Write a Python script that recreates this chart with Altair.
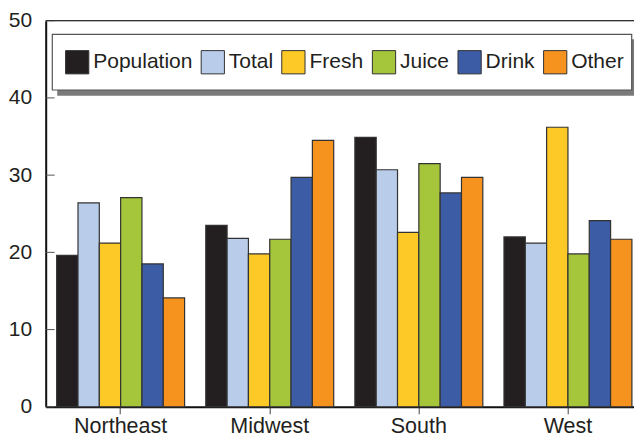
import altair as alt
import pandas as pd

regions = ["Northeast", "Midwest", "South", "West"]
series = ["Population", "Total", "Fresh", "Juice", "Drink", "Other"]
colors = ["#231f20", "#b9cdea", "#fcc926", "#a5c63b", "#3c5ca5", "#f6921e"]

population = [19.6, 23.5, 34.9, 22.0]
total = [26.4, 21.8, 30.7, 21.2]
fresh = [21.2, 19.8, 22.6, 36.2]
juice = [27.1, 21.7, 31.5, 19.8]
drink = [18.5, 29.7, 27.7, 24.1]
other = [14.1, 34.5, 29.7, 21.7]

y_ticks = [0, 10, 20, 30, 40, 50]

values = [population, total, fresh, juice, drink, other]
rows = []
for s, vals in zip(series, values):
    for r, v in zip(regions, vals):
        rows.append({"region": r, "series": s, "value": v})
df = pd.DataFrame(rows)

FONT = "Liberation Sans"
W, H = 588.3, 386.1
PAD_L, PAD_T = 37.7, 12.7
SVG_W, SVG_H = 626, 430

bars = alt.Chart(df).mark_bar(stroke="#333333", strokeWidth=1.2).encode(
    x=alt.X(
        "region:N",
        sort=regions,
        scale=alt.Scale(paddingInner=0.142, paddingOuter=0.0438, align=0.84),
        axis=alt.Axis(
            title=None, labelAngle=0, labelFont=FONT, labelFontSize=21.5,
            labelColor="#231f20", labelPadding=2, domainColor="#111111",
            domainWidth=2, ticks=True, tickSize=7, tickColor="#444444",
            tickWidth=1, grid=False,
        ),
    ),
    xOffset=alt.XOffset("series:N", sort=series,
                        scale=alt.Scale(paddingInner=0, paddingOuter=0)),
    y=alt.Y(
        "value:Q",
        scale=alt.Scale(domain=[0, 50], nice=False),
        axis=alt.Axis(
            title=None, values=y_ticks, labelFont=FONT, labelFontSize=21,
            labelColor="#231f20", labelPadding=14, ticks=False,
            domainColor="#111111", domainWidth=2, grid=False,
        ),
    ),
    color=alt.Color(
        "series:N",
        sort=series,
        scale=alt.Scale(domain=series, range=colors),
        legend=alt.Legend(
            title=None, orient="none", legendX=19, legendY=28.6,
            direction="horizontal", columns=6, symbolType="square",
            symbolSize=540, symbolStrokeColor="#333333", symbolStrokeWidth=1,
            symbolOpacity=1, labelFont=FONT, labelFontSize=21,
            labelColor="#231f20", columnPadding=5.6, padding=0, labelOffset=3.5,
        ),
    ),
)

one = pd.DataFrame({"k": [0]})

shadow = alt.Chart(one).mark_rect(color="#7a7a7a").encode(
    x=alt.value(11.5), x2=alt.value(W), y=alt.value(18.6), y2=alt.value(75.1)
)
box = alt.Chart(one).mark_rect(fill="white", stroke="#555555", strokeWidth=1.2).encode(
    x=alt.value(6.6), x2=alt.value(586), y=alt.value(13.6), y2=alt.value(69.3)
)

tick_df = pd.DataFrame({"t": y_ticks})
yticks = alt.Chart(tick_df).mark_rule(color="#555555", strokeWidth=1).encode(
    y="t:Q", x=alt.value(0), x2=alt.value(9)
)

top_line = alt.Chart(one).mark_rule(color="#333333", strokeWidth=1.3).encode(
    x=alt.value(0), x2=alt.value(W), y=alt.value(0)
)

chart = alt.layer(bars, shadow, box, yticks, top_line).properties(
    width=W, height=H,
    autosize=alt.AutoSizeParams(type="none"),
    padding={"left": PAD_L, "top": PAD_T, "right": SVG_W - PAD_L - W,
             "bottom": SVG_H - PAD_T - H},
).configure_view(stroke=None).configure(background="white")

chart.save("out.html", embed_options={"renderer": "svg", "actions": False})
